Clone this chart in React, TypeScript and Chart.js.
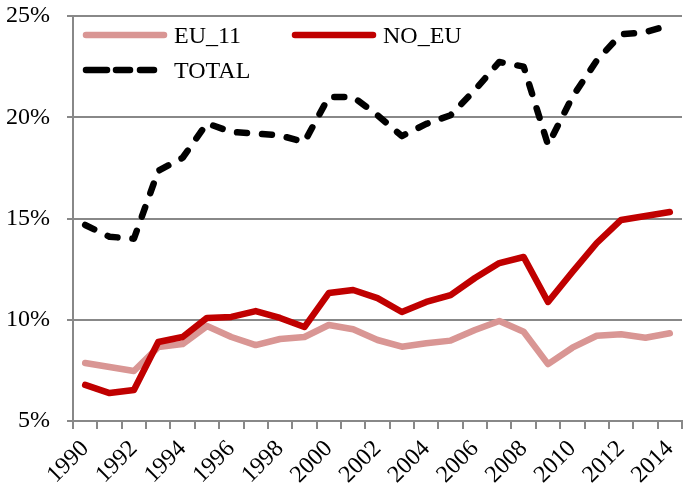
import React, { useEffect, useRef } from "react";
import { Chart, registerables } from "chart.js";

Chart.register(...registerables);

const years = [
  "1990", "1991", "1992", "1993", "1994", "1995", "1996", "1997", "1998", "1999",
  "2000", "2001", "2002", "2003", "2004", "2005", "2006", "2007", "2008", "2009",
  "2010", "2011", "2012", "2013", "2014",
];

const eu11 = [
  7.86, 7.67, 7.47, 8.65, 8.8, 9.69, 9.15, 8.75, 9.05, 9.15,
  9.74, 9.53, 9.0, 8.67, 8.84, 8.97, 9.49, 9.94, 9.41, 7.81,
  8.62, 9.21, 9.28, 9.11, 9.33,
];

const noEu = [
  6.78, 6.38, 6.53, 8.9, 9.15, 10.09, 10.14, 10.43, 10.09, 9.64,
  11.32, 11.47, 11.07, 10.38, 10.88, 11.22, 12.06, 12.8, 13.1, 10.88,
  12.36, 13.79, 14.93, 15.12, 15.32,
];

const total = [
  14.68, 14.1, 14.0, 17.35, 18.0, 19.7, 19.27, 19.2, 19.1, 18.78,
  21.0, 21.0, 20.1, 19.07, 19.67, 20.1, 21.35, 22.73, 22.5, 18.63,
  21.0, 22.8, 24.1, 24.2, 24.55,
];

const yTicks = [5, 10, 15, 20, 25];

const FONT = '"Liberation Serif", "Times New Roman", Times, serif';
const GRID = "#888888";

const legendPlugin = {
  id: "insideLegend",
  afterDraw(chart: any) {
    const { ctx, chartArea } = chart;
    const L = chartArea.left;
    const items = [
      { ds: 0, x: L + 13, y: 35 },
      { ds: 1, x: L + 222, y: 35 },
      { ds: 2, x: L + 13, y: 70 },
    ];
    ctx.save();
    items.forEach((it) => {
      const ds = chart.data.datasets[it.ds];
      ctx.strokeStyle = ds.borderColor;
      ctx.lineWidth = ds.borderWidth;
      ctx.lineCap = "round";
      if (ds.borderDash && ds.borderDash.length) {
        const segs = [
          [0, 21],
          [30, 44],
          [54, 68],
        ];
        segs.forEach(([a, b]) => {
          ctx.beginPath();
          ctx.moveTo(it.x + a, it.y);
          ctx.lineTo(it.x + b, it.y);
          ctx.stroke();
        });
      } else {
        ctx.beginPath();
        ctx.moveTo(it.x, it.y);
        ctx.lineTo(it.x + 78, it.y);
        ctx.stroke();
      }
      ctx.fillStyle = "#000";
      ctx.font = `24px ${FONT}`;
      ctx.textAlign = "left";
      ctx.textBaseline = "alphabetic";
      ctx.fillText(ds.label, it.x + 88, it.y + 8);
    });
    ctx.restore();
  },
};

export default function App() {
  const ref = useRef<HTMLCanvasElement | null>(null);

  useEffect(() => {
    if (!ref.current) return;
    const chart = new Chart(ref.current, {
      type: "line",
      data: {
        labels: years,
        datasets: [
          {
            label: "EU_11",
            data: eu11,
            borderColor: "#D99694",
            backgroundColor: "#D99694",
            borderWidth: 6.5,
            pointRadius: 0,
            tension: 0,
            borderJoinStyle: "round",
            borderCapStyle: "round",
            order: 3,
          },
          {
            label: "NO_EU",
            data: noEu,
            borderColor: "#C00000",
            backgroundColor: "#C00000",
            borderWidth: 6.5,
            pointRadius: 0,
            tension: 0,
            borderJoinStyle: "round",
            borderCapStyle: "round",
            order: 2,
          },
          {
            label: "TOTAL",
            data: total,
            borderColor: "#000000",
            backgroundColor: "#000000",
            borderWidth: 6.5,
            borderDash: [10, 15],
            pointRadius: 0,
            tension: 0,
            borderJoinStyle: "round",
            borderCapStyle: "round",
            order: 1,
          },
        ],
      },
      options: {
        responsive: false,
        animation: false,
        layout: { padding: { top: 16, right: 3, left: 0, bottom: 0 } },
        plugins: {
          legend: { display: false },
          tooltip: { enabled: false },
        },
        scales: {
          x: {
            type: "category",
            offset: true,
            grid: {
              offset: true,
              drawOnChartArea: false,
              drawTicks: true,
              tickLength: 8,
              color: GRID,
              lineWidth: 2,
            },
            border: { display: true, color: GRID, width: 2 },
            ticks: {
              autoSkip: false,
              minRotation: 45,
              maxRotation: 45,
              padding: 6,
              labelOffset: 0,
              color: "#000",
              font: { family: FONT, size: 24 },
              callback: function (this: any, val: any, idx: number) {
                return idx % 2 === 0 ? this.getLabelForValue(val) : "";
              },
            },
            afterFit: (s: any) => {
              s.height = 73;
              s.paddingLeft = 0;
              s.paddingRight = 0;
            },
          },
          y: {
            min: 5,
            max: 25,
            afterBuildTicks: (s: any) => {
              s.ticks = yTicks.map((v) => ({ value: v }));
            },
            grid: {
              color: GRID,
              lineWidth: 2,
              drawTicks: true,
              tickLength: 6,
            },
            border: { display: true, color: GRID, width: 2 },
            ticks: {
              padding: 17,
              color: "#000",
              font: { family: FONT, size: 24 },
              callback: (v: any) => `${v}%`,
            },
            afterFit: (s: any) => {
              s.width = 73;
              s.paddingTop = 0;
              s.paddingBottom = 0;
            },
          },
        },
      },
      plugins: [legendPlugin],
    });
    return () => chart.destroy();
  }, []);

  return (
    <div style={{ position: "fixed", left: 0, top: 0, width: 685, height: 494, background: "#fff" }}>
      <canvas ref={ref} width={685} height={494} style={{ display: "block" }} />
    </div>
  );
}
